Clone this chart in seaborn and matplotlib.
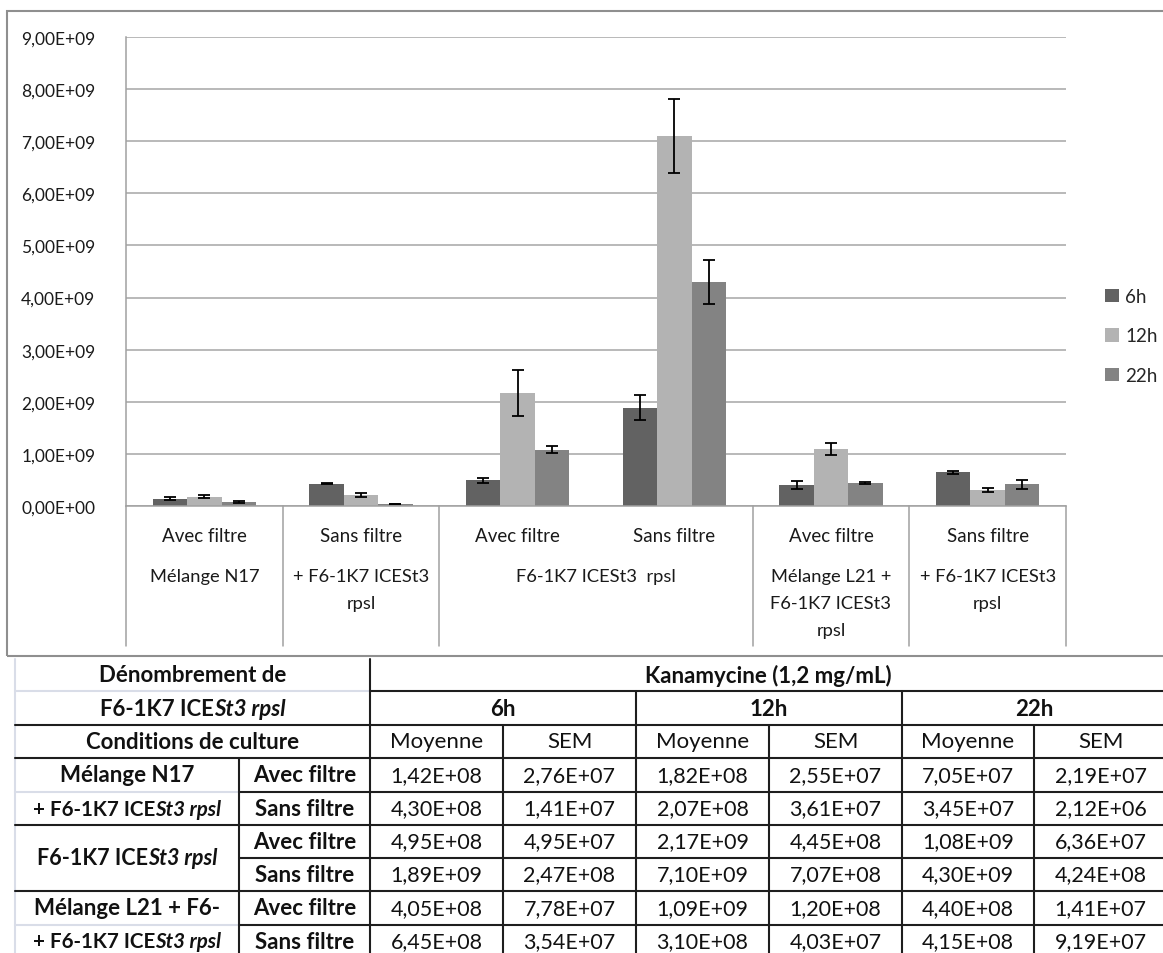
import numpy as np
import pandas as pd
import matplotlib
matplotlib.use("Agg")
import matplotlib.pyplot as plt
from matplotlib.lines import Line2D
from matplotlib.patches import Rectangle
from matplotlib.ticker import FuncFormatter
import seaborn as sns

# Denombrement F6-1K7 ICESt3 rpsl - Kanamycine (1,2 mg/mL)

sns.set_style("white")
plt.rcParams['font.family'] = ['Lato', 'DejaVu Sans']

# data
cond_keys = ['N17 avec', 'N17 sans', 'F6 avec', 'F6 sans', 'L21 avec', 'L21 sans']
filtre = ['Avec filtre', 'Sans filtre', 'Avec filtre', 'Sans filtre', 'Avec filtre', 'Sans filtre']
times = ['6h', '12h', '22h']
mean_6h = [1.42e8, 4.30e8, 4.95e8, 1.89e9, 4.05e8, 6.45e8]
sem_6h = [2.76e7, 1.41e7, 4.95e7, 2.47e8, 7.78e7, 3.54e7]
mean_12h = [1.82e8, 2.07e8, 2.17e9, 7.10e9, 1.09e9, 3.10e8]
sem_12h = [2.55e7, 3.61e7, 4.45e8, 7.07e8, 1.20e8, 4.03e7]
mean_22h = [7.05e7, 3.45e7, 1.08e9, 4.30e9, 4.40e8, 4.15e8]
sem_22h = [2.19e7, 2.12e6, 6.36e7, 4.24e8, 1.41e7, 9.19e7]
colors = ['#626262', '#b3b3b3', '#838383']

means = [mean_6h, mean_12h, mean_22h]
sems = [sem_6h, sem_12h, sem_22h]

df = pd.DataFrame({
    'cond': cond_keys * 3,
    'time': [t for t in times for _ in cond_keys],
    'value': mean_6h + mean_12h + mean_22h,
})

W, H = 1163, 954


def fx(x):
    return x / W


def fy(y):
    return 1 - y / H


def sci(v):
    return f"{v:.2E}".replace('.', ',')


fig = plt.figure(figsize=(W / 100, H / 100), dpi=100)

# chart frame
fig.add_artist(Rectangle((fx(7), fy(657)), fx(1300), fy(12) - fy(657), transform=fig.transFigure,
                         fill=False, ec='#8f8f8f', lw=1.5))

ax_l, ax_r, ax_t, ax_b = 126, 1066, 38, 507
ax = fig.add_axes([fx(ax_l), fy(ax_b), fx(ax_r - ax_l), fy(ax_t) - fy(ax_b)])
sns.barplot(data=df, x='cond', y='value', hue='time', order=cond_keys, hue_order=times,
            palette=colors, width=0.66, gap=0, errorbar=None, saturation=1, ax=ax, linewidth=0)

# error bars (SEM)
for cont, sem in zip(ax.containers, sems):
    xs = [b.get_x() + b.get_width() / 2 for b in cont]
    ys = [b.get_height() for b in cont]
    ax.errorbar(xs, ys, yerr=sem, fmt='none', ecolor='black', elinewidth=1.3, capsize=4, capthick=1.3)

ax.set_ylim(0, 9e9)
ax.set_xlim(-0.5, 5.5)
ax.set_yticks(np.arange(0, 9.1e9, 1e9))
ax.yaxis.set_major_formatter(FuncFormatter(lambda v, p: sci(v)))
ax.tick_params(axis='y', length=0, pad=22, labelsize=12.5, labelcolor='#1a1a1a')
ax.set_xticks([])
ax.set_xlabel('')
ax.set_ylabel('')
ax.grid(axis='y', color='#a6a6a6', lw=1.1)
ax.set_axisbelow(True)
for s in ['top', 'right']:
    ax.spines[s].set_visible(False)
for s in ['left', 'bottom']:
    ax.spines[s].set_color('#a0a0a0')
    ax.spines[s].set_linewidth(1.1)

# two-level category axis
hpx = ax_b - ax_t


def ay(y):
    return -(y - ax_b) / hpx


tr = ax.get_xaxis_transform()
for xb in [-0.5, 0.5, 1.5, 3.5, 4.5, 5.5]:
    ax.add_line(Line2D([xb, xb], [0, ay(647)], transform=tr, color='#a0a0a0', lw=1.1, clip_on=False))
for i, lab in enumerate(filtre):
    ax.text(i, ay(537), lab, transform=tr, ha='center', va='center', fontsize=13.5, color='#1a1a1a')
groups = [(0, 'Mélange N17'), (1, '+ F6-1K7 ICESt3\nrpsl'), (2.5, 'F6-1K7 ICESt3  rpsl'),
          (4, 'Mélange L21 +\nF6-1K7 ICESt3\nrpsl'), (5, '+ F6-1K7 ICESt3\nrpsl')]
for gx, lab in groups:
    for k, line in enumerate(lab.split('\n')):
        ax.text(gx, ay(577 + 27 * k), line, transform=tr, ha='center', va='center', fontsize=13.2,
                color='#1a1a1a')

# legend
handles, labels = ax.get_legend_handles_labels()
ax.legend(handles, labels, loc='center left', bbox_to_anchor=(fx(1096), fy(337)),
          bbox_transform=fig.transFigure, frameon=False, fontsize=13.5, handlelength=0.7,
          handleheight=0.7, handletextpad=0.35, labelspacing=1.2, borderpad=0)

# table
cols = [15, 239, 370, 503, 636, 769, 902, 1034, 1167]
rows = [660, 692, 726, 759, 793, 826, 859, 892, 926, 959]
BLK = '#1e1e1e'
LGT = '#d9dde8'
renderer = fig.canvas.get_renderer()


def hline(y, x0, x1, c=BLK, lw=1.5):
    fig.add_artist(Line2D([fx(x0), fx(x1)], [fy(y), fy(y)], transform=fig.transFigure, color=c, lw=lw))


def vline(x, y0, y1, c=BLK, lw=1.5):
    fig.add_artist(Line2D([fx(x), fx(x)], [fy(y0), fy(y1)], transform=fig.transFigure, color=c, lw=lw))


def cell(x, y, s, bold=False, size=16):
    fig.text(fx(x), fy(y), s, ha='center', va='center', fontsize=size,
             fontweight='bold' if bold else 'normal', color='#111111')


def rich(x, y, parts, size=15.5):
    ts = []
    for s, st in parts:
        ts.append(fig.text(0, fy(y), s, ha='left', va='center', fontsize=size, fontweight='bold',
                           fontstyle=st, color='#111111'))
    ws = [t.get_window_extent(renderer).width for t in ts]
    x0 = x - sum(ws) / 2
    for t, w in zip(ts, ws):
        t.set_x(fx(x0))
        x0 += w


def mid(a, b):
    return (a + b) / 2


strain = [('F6-1K7 ICE', 'normal'), ('St3 rpsl', 'italic')]
strain_plus = [('+ F6-1K7 ICE', 'normal'), ('St3 rpsl', 'italic')]

# light lines
vline(cols[0], rows[0], H, c=LGT)
hline(rows[1], cols[0], cols[2], c=LGT)
hline(rows[4], cols[0], cols[1], c=LGT)
hline(rows[8], cols[0], cols[1], c=LGT)
# black lines
hline(rows[1], cols[2], cols[8])
for r in [2, 3, 5, 7]:
    hline(rows[r], cols[0], cols[8])
for r in [4, 6, 8]:
    hline(rows[r], cols[1], cols[8])
vline(cols[1], rows[3], H)
vline(cols[2], rows[0], H)
for c in [3, 5, 7]:
    vline(cols[c], rows[2], H)
for c in [4, 6]:
    vline(cols[c], rows[1], H)

cell(mid(cols[0], cols[2]), mid(rows[0], rows[1]), 'Dénombrement de', bold=True)
rich(mid(cols[0], cols[2]), mid(rows[1], rows[2]), strain, size=16)
cell(mid(cols[0], cols[2]), mid(rows[2], rows[3]), 'Conditions de culture', bold=True)
cell(mid(cols[2], cols[8]), mid(rows[0], rows[1]), 'Kanamycine (1,2 mg/mL)', bold=True)
for k, t in enumerate(times):
    cell(mid(cols[2 + 2 * k], cols[4 + 2 * k]), mid(rows[1], rows[2]), t, bold=True)
    cell(mid(cols[2 + 2 * k], cols[3 + 2 * k]), mid(rows[2], rows[3]), 'Moyenne')
    cell(mid(cols[3 + 2 * k], cols[4 + 2 * k]), mid(rows[2], rows[3]), 'SEM')
    for i in range(6):
        cell(mid(cols[2 + 2 * k], cols[3 + 2 * k]), mid(rows[3 + i], rows[4 + i]), sci(means[k][i]), size=15.5)
        cell(mid(cols[3 + 2 * k], cols[4 + 2 * k]), mid(rows[3 + i], rows[4 + i]), sci(sems[k][i]), size=15.5)

cell(mid(cols[0], cols[1]), mid(rows[3], rows[4]), 'Mélange N17', bold=True)
rich(mid(cols[0], cols[1]), mid(rows[4], rows[5]), strain_plus, size=14.8)
rich(mid(cols[0], cols[1]), rows[6], strain, size=15.5)
cell(mid(cols[0], cols[1]), mid(rows[7], rows[8]), 'Mélange L21 + F6-', bold=True)
rich(mid(cols[0], cols[1]), mid(rows[8], rows[9]), strain_plus, size=14.8)
for i in range(6):
    cell(mid(cols[1], cols[2]), mid(rows[3 + i], rows[4 + i]), filtre[i], bold=True)

fig.savefig('out.png', dpi=100)
